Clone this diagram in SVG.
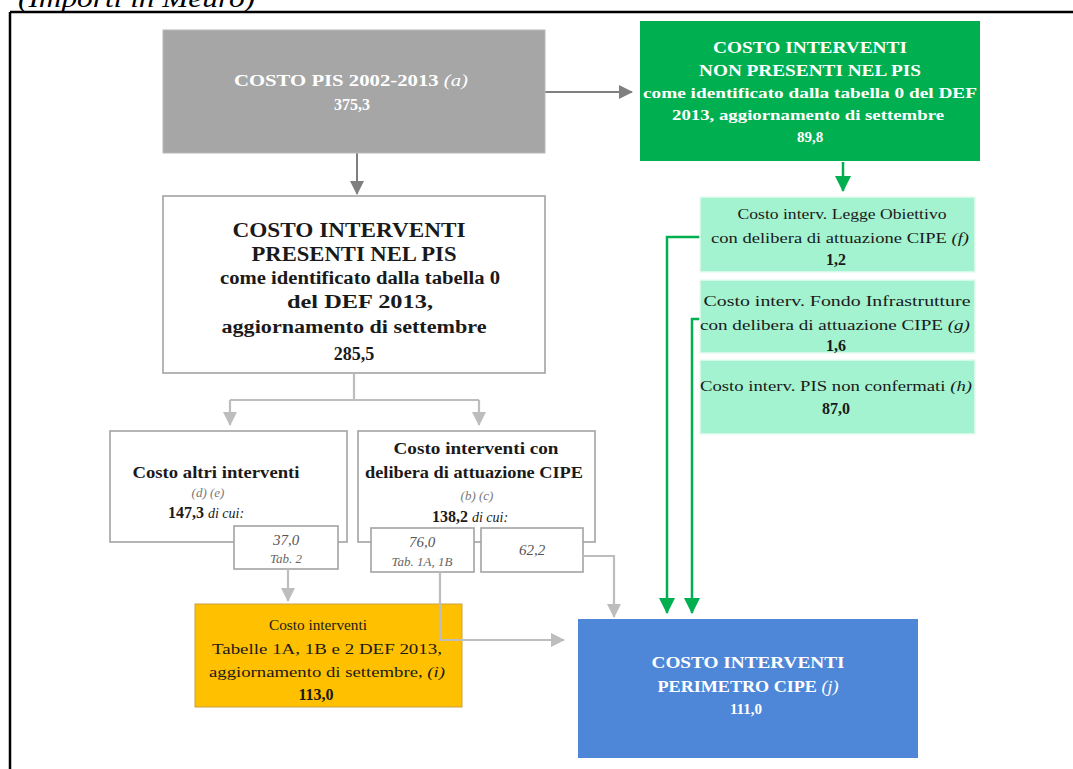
<svg xmlns="http://www.w3.org/2000/svg" width="1073" height="769" viewBox="0 0 1073 769">
<style>
text{font-family:"Liberation Serif","Times New Roman",serif;text-anchor:middle}
.b{font-weight:bold}
.i{font-style:italic}
.n{font-weight:normal}
.w{fill:#ffffff}
.k{fill:#1a1a1a}
.wb{fill:#ffffff;stroke:#a3a3a3;stroke-width:1.6}
.mint{fill:#a3f2d0;stroke:#e6fbf1;stroke-width:1.5}
.dg{stroke:#7f7f7f;stroke-width:2;fill:none}
.lg{stroke:#bdbdbd;stroke-width:2.2;fill:none}
.gr{stroke:#00b050;stroke-width:2.5;fill:none}
</style>
<defs>
<marker id="ad" markerUnits="userSpaceOnUse" markerWidth="14" markerHeight="14" refX="13" refY="7" orient="auto"><path d="M0,0 L14,7 L0,14 Z" fill="#7f7f7f"/></marker>
<marker id="al" markerUnits="userSpaceOnUse" markerWidth="14" markerHeight="14" refX="13" refY="7" orient="auto"><path d="M0,0 L14,7 L0,14 Z" fill="#bdbdbd"/></marker>
<marker id="ag" markerUnits="userSpaceOnUse" markerWidth="16" markerHeight="16" refX="15" refY="8" orient="auto"><path d="M0,0 L16,8 L0,16 Z" fill="#00b050"/></marker>
</defs>
<rect width="1073" height="769" fill="#ffffff"/>
<text x="18" y="7" class="i" style="text-anchor:start;font-size:26px" textLength="237" lengthAdjust="spacingAndGlyphs">(Importi in Meuro)</text>
<path d="M10,12 H1073 M10,12 V769" stroke="#000" stroke-width="2.5" fill="none"/>

<g id="connectors">
<path class="dg" d="M545,92 H632" marker-end="url(#ad)"/>
<path class="dg" d="M357,153 V194" marker-end="url(#ad)"/>
<path class="gr" d="M843,162 V191" marker-end="url(#ag)"/>
<path class="gr" d="M700,237 H667 V613" marker-end="url(#ag)"/>
<path class="gr" d="M700,319 H692 V613" marker-end="url(#ag)"/>
<path class="lg" d="M354,374 V400 M230,400 H479"/>
<path class="lg" d="M230,400 V425" marker-end="url(#al)"/>
<path class="lg" d="M479,400 V425" marker-end="url(#al)"/>
</g>

<g id="n-pis">
<rect x="163" y="30" width="382" height="123" fill="#a6a6a6" stroke="#b8b8b8" stroke-width="1"/>
<text x="351" y="86" class="b w" font-size="16" textLength="234" lengthAdjust="spacingAndGlyphs">COSTO PIS 2002-2013 <tspan class="i n">(a)</tspan></text>
<text x="352" y="110" class="b w" font-size="16">375,3</text>
</g>

<g id="n-nonpis">
<rect x="640" y="21" width="340" height="140" fill="#00b050"/>
<text x="810" y="53" class="b w" font-size="16" textLength="194" lengthAdjust="spacingAndGlyphs">COSTO INTERVENTI</text>
<text x="810" y="76" class="b w" font-size="16" textLength="222" lengthAdjust="spacingAndGlyphs">NON PRESENTI NEL PIS</text>
<text x="810" y="98" class="b w" font-size="15" textLength="334" lengthAdjust="spacingAndGlyphs">come identificato dalla tabella 0 del DEF</text>
<text x="808" y="120" class="b w" font-size="15" textLength="272" lengthAdjust="spacingAndGlyphs">2013, aggiornamento di settembre</text>
<text x="810" y="142" class="b w" font-size="15">89,8</text>
</g>

<g id="n-legge">
<rect x="700" y="197" width="275" height="75" class="mint"/>
<text x="842" y="219" class="k" font-size="15" textLength="209" lengthAdjust="spacingAndGlyphs">Costo interv. Legge Obiettivo</text>
<text x="840" y="243" class="k" font-size="15" textLength="258" lengthAdjust="spacingAndGlyphs">con delibera di attuazione CIPE <tspan class="i">(f)</tspan></text>
<text x="836" y="265" class="b k" font-size="16">1,2</text>
</g>

<g id="n-fondo">
<rect x="700" y="280" width="275" height="73" class="mint"/>
<text x="837" y="306" class="k" font-size="15" textLength="267" lengthAdjust="spacingAndGlyphs">Costo interv. Fondo Infrastrutture</text>
<text x="835" y="330" class="k" font-size="15" textLength="270" lengthAdjust="spacingAndGlyphs">con delibera di attuazione CIPE <tspan class="i">(g)</tspan></text>
<text x="836" y="351" class="b k" font-size="16">1,6</text>
</g>

<g id="n-nonconf">
<rect x="700" y="360" width="275" height="74" class="mint"/>
<text x="836" y="391" class="k" font-size="15" textLength="272" lengthAdjust="spacingAndGlyphs">Costo interv. PIS non confermati <tspan class="i">(h)</tspan></text>
<text x="836" y="414" class="b k" font-size="16">87,0</text>
</g>

<g id="n-presenti">
<rect x="163" y="196" width="382" height="177" class="wb"/>
<text x="349" y="237" class="b k" font-size="20" textLength="233" lengthAdjust="spacingAndGlyphs">COSTO INTERVENTI</text>
<text x="354" y="261" class="b k" font-size="20" textLength="205" lengthAdjust="spacingAndGlyphs">PRESENTI NEL PIS</text>
<text x="360" y="284" class="b k" font-size="18" textLength="280" lengthAdjust="spacingAndGlyphs">come identificato dalla tabella 0</text>
<text x="360" y="308" class="b k" font-size="18" textLength="146" lengthAdjust="spacingAndGlyphs">del DEF 2013,</text>
<text x="354" y="333" class="b k" font-size="18" textLength="265" lengthAdjust="spacingAndGlyphs">aggiornamento di settembre</text>
<text x="354" y="360" class="b k" font-size="18">285,5</text>
</g>

<g id="n-altri">
<rect x="110" y="431" width="237" height="111" class="wb"/>
<text x="216" y="478" class="b k" font-size="16" textLength="167" lengthAdjust="spacingAndGlyphs">Costo altri interventi</text>
<text x="208" y="497" class="i" fill="#777" font-size="13">(d) (e)</text>
<text x="206" y="518" class="b k" font-size="16">147,3 <tspan class="i n" font-size="14">di cui:</tspan></text>
</g>

<g id="n-delibera">
<rect x="358" y="431" width="237" height="111" class="wb"/>
<text x="476" y="454" class="b k" font-size="16" textLength="165" lengthAdjust="spacingAndGlyphs">Costo interventi  con</text>
<text x="474" y="478" class="b k" font-size="16" textLength="218" lengthAdjust="spacingAndGlyphs">delibera di attuazione CIPE</text>
<text x="477" y="500" class="i" fill="#777" font-size="13">(b) (c)</text>
<text x="470" y="522" class="b k" font-size="16">138,2 <tspan class="i n" font-size="14"> di cui:</tspan></text>
</g>

<g id="n-tab2">
<rect x="234" y="526" width="104" height="43" class="wb"/>
<text x="286" y="545" class="i" fill="#555" font-size="15">37,0</text>
<text x="286" y="563" class="i" fill="#666" font-size="13">Tab. 2</text>
</g>

<g id="n-tab1">
<rect x="371" y="528" width="103" height="44" class="wb"/>
<text x="422" y="547" class="i" fill="#555" font-size="15">76,0</text>
<text x="422" y="566" class="i" fill="#666" font-size="13">Tab. 1A, 1B</text>
</g>

<g id="n-622">
<rect x="481" y="528" width="102" height="44" class="wb"/>
<text x="532" y="555" class="i" fill="#555" font-size="15">62,2</text>
</g>

<g id="n-tabelle">
<rect x="195" y="604" width="267" height="103" fill="#ffc000" stroke="#c8a040" stroke-width="1"/>
<text x="318" y="630" class="k" font-size="15" textLength="98" lengthAdjust="spacingAndGlyphs">Costo interventi</text>
<text x="327" y="654" class="k" font-size="15" textLength="230" lengthAdjust="spacingAndGlyphs">Tabelle 1A, 1B e 2  DEF 2013,</text>
<text x="327" y="677" class="k" font-size="15" textLength="236" lengthAdjust="spacingAndGlyphs">aggiornamento di settembre,  <tspan class="i">(i)</tspan></text>
<text x="316" y="700" class="b k" font-size="16">113,0</text>
</g>

<g id="n-perimetro">
<rect x="578" y="619" width="340" height="139" fill="#4f87d8"/>
<text x="748" y="668" class="b w" font-size="16" textLength="193" lengthAdjust="spacingAndGlyphs">COSTO INTERVENTI</text>
<text x="748" y="692" class="b w" font-size="16" textLength="181" lengthAdjust="spacingAndGlyphs">PERIMETRO CIPE <tspan class="i n">(j)</tspan></text>
<text x="746" y="714" class="b w" font-size="15">111,0</text>
</g>

<g id="connectors-lower">
<path class="lg" d="M288,569 V601" marker-end="url(#al)"/>
<path class="lg" d="M440,572 V640 H564" marker-end="url(#al)"/>
<path class="lg" d="M583,556 H614 V617" marker-end="url(#al)"/>
</g>
</svg>
